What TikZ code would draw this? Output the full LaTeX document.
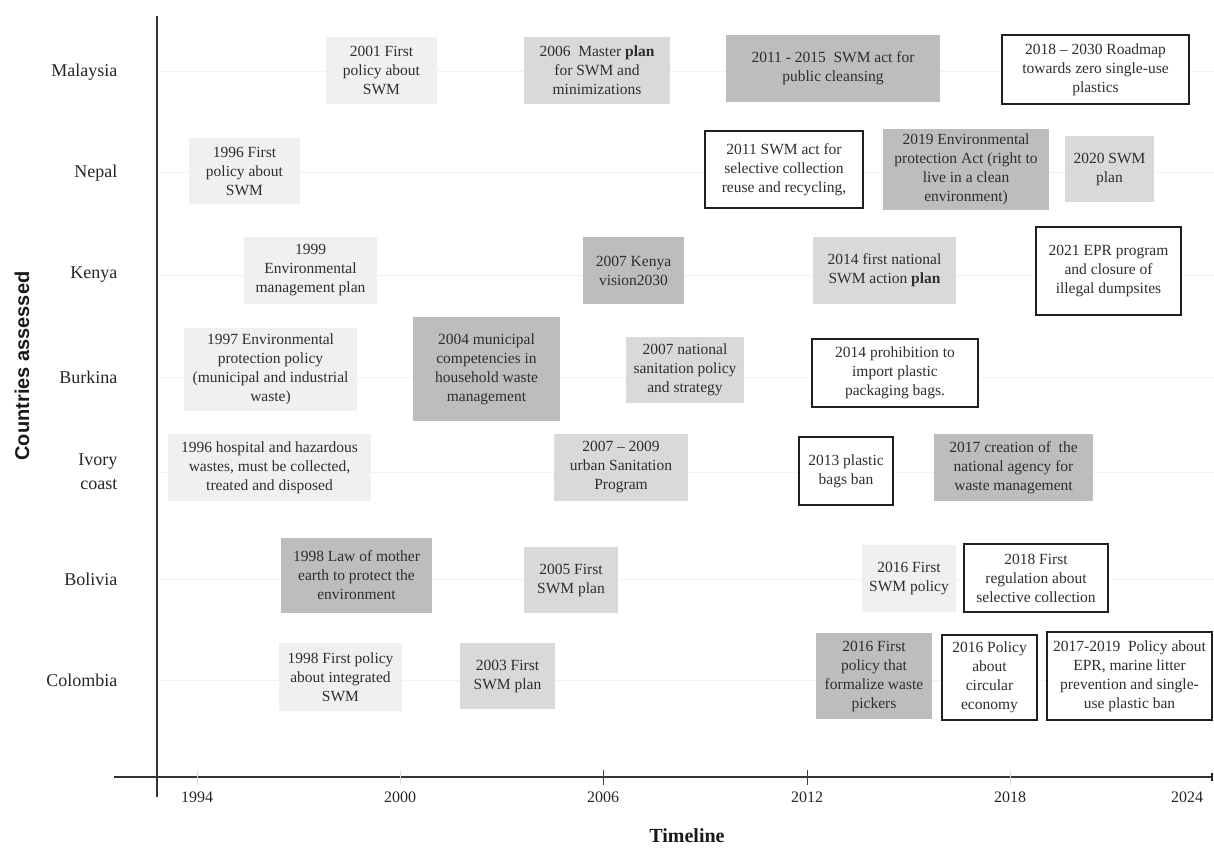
\documentclass[tikz,border=0pt]{standalone}
\usepackage{fontspec}
\setmainfont{Liberation Serif}
\newfontfamily\axsans{Liberation Sans}
\begin{document}
\begin{tikzpicture}[x=1pt,y=-1pt,
  evbox/.style={inner sep=0pt, align=center, text=black!82,
    font=\fontsize{15.5}{19}\selectfont},
  lbox/.style={evbox, fill=black!6},
  gbox/.style={evbox, fill=black!15},
  dbox/.style={evbox, fill=black!26},
  wbox/.style={evbox, fill=white, draw=black!88, line width=1.4pt},
  country/.style={anchor=east, align=right, text=black!85,
    font=\fontsize{18}{24}\selectfont},
  year/.style={text=black!85, font=\fontsize{16}{19}\selectfont},
  grid/.style={draw=black!5, line width=1pt},
  axis/.style={draw=black!80, line width=1.4pt}]
\useasboundingbox (0,0) rectangle (1214,850);

% gridlines
\foreach \yy in {72,173,275,377,472,579,680}{
  \draw[grid] (160,\yy) -- (1214,\yy);
}

% axes
\coordinate (vtop) at (157,16);
\coordinate (vbot) at (157,797);
\coordinate (hl) at (114,777);
\coordinate (hr) at (1213,777);
\draw[axis] (vtop) -- (vbot);
\draw[axis] (hl) -- (hr);
\foreach \xx in {197,400,1010}{
  \draw[draw=black!12, line width=1pt] (\xx,770) -- (\xx,785);
}
\foreach \xx in {603,807}{
  \draw[draw=black!75, line width=1pt] (\xx,770) -- (\xx,785);
}
\draw[draw=black!85, line width=2.5pt] (1212,773) -- (1212,781);

% year labels
\node[year] (y1994) at (197,797) {1994};
\node[year] (y2000) at (400,797) {2000};
\node[year] (y2006) at (603,797) {2006};
\node[year] (y2012) at (807,797) {2012};
\node[year] (y2018) at (1010,797) {2018};
\node[year] (y2024) at (1187,797) {2024};

% axis titles
\node[font=\fontsize{20}{24}\selectfont\bfseries, text=black!90] (tl) at (687,836) {Timeline};
\node[rotate=90, font=\axsans\fontsize{20}{24}\selectfont\bfseries, text=black!90] (ca) at (22,366) {Countries assessed};

% country labels
\node[country] (cMal) at (121,72) {Malaysia};
\node[country] (cNep) at (121,173) {Nepal};
\node[country] (cKen) at (121,275) {Kenya};
\node[country] (cBur) at (121,377) {Burkina};
\node[country] (cIvo) at (121,472) {Ivory\\coast};
\node[country] (cBol) at (121,579) {Bolivia};
\node[country] (cCol) at (121,680) {Colombia};

% Malaysia
\node[lbox, minimum width=111, minimum height=67] (m1) at (381.5,70.5) {2001 First\\policy about\\SWM};
\node[gbox, minimum width=146, minimum height=67] (m2) at (597,70.5) {2006\ \ Master \textbf{plan}\\for SWM and\\minimizations};
\node[dbox, minimum width=214, minimum height=67] (m3) at (833,68.5) {2011 - 2015\ \ SWM act for\\public cleansing};
\node[wbox, minimum width=187, minimum height=69] (m4) at (1095.5,69.5) {2018 -- 2030 Roadmap\\towards zero single-use\\plastics};

% Nepal
\node[lbox, minimum width=111, minimum height=66] (n1) at (244.5,171) {1996 First\\policy about\\SWM};
\node[wbox, minimum width=158, minimum height=77] (n2) at (784,169.5) {2011 SWM act for\\selective collection\\reuse and recycling,};
\node[dbox, minimum width=166, minimum height=81] (n3) at (966,169.5) {2019 Environmental\\protection Act (right to\\live in a clean\\environment)};
\node[gbox, minimum width=89, minimum height=66] (n4) at (1109.5,169) {2020 SWM\\plan};

% Kenya
\node[lbox, minimum width=133, minimum height=67] (k1) at (310.5,270.5) {1999\\Environmental\\management plan};
\node[dbox, minimum width=101, minimum height=67] (k2) at (633.5,270.5) {2007 Kenya\\vision2030};
\node[gbox, minimum width=143, minimum height=67] (k3) at (884.5,270.5) {2014 first national\\SWM action \textbf{plan}};
\node[wbox, minimum width=145, minimum height=88] (k4) at (1108.5,271) {2021 EPR program\\and closure of\\illegal dumpsites};

% Burkina
\node[lbox, minimum width=173, minimum height=83] (b1) at (270.5,369.5) {1997 Environmental\\protection policy\\(municipal and industrial\\waste)};
\node[dbox, minimum width=147, minimum height=104] (b2) at (486.5,369) {2004 municipal\\competencies in\\household waste\\management};
\node[gbox, minimum width=118, minimum height=66] (b3) at (685,370) {2007 national\\sanitation policy\\and strategy};
\node[wbox, minimum width=166, minimum height=68] (b4) at (895,373) {2014 prohibition to\\import plastic\\packaging bags.};

% Ivory coast
\node[lbox, minimum width=203, minimum height=67] (i1) at (269.5,467.5) {1996 hospital and hazardous\\wastes, must be collected,\\treated and disposed};
\node[gbox, minimum width=134, minimum height=67] (i2) at (621,467.5) {2007 -- 2009\\urban Sanitation\\Program};
\node[wbox, minimum width=94, minimum height=68] (i3) at (846,471) {2013 plastic\\bags ban};
\node[dbox, minimum width=159, minimum height=67] (i4) at (1013.5,467.5) {2017 creation of\ \ the\\national agency for\\waste management};

% Bolivia
\node[dbox, minimum width=151, minimum height=75] (o1) at (356.5,575.5) {1998 Law of mother\\earth to protect the\\environment};
\node[gbox, minimum width=94, minimum height=66] (o2) at (571,580) {2005 First\\SWM plan};
\node[lbox, minimum width=94, minimum height=67] (o3) at (909,578.5) {2016 First\\SWM policy};
\node[wbox, minimum width=144, minimum height=68] (o4) at (1036,578) {2018 First\\regulation about\\selective collection};

% Colombia
\node[lbox, minimum width=123, minimum height=68] (c1) at (340.5,677) {1998 First policy\\about integrated\\SWM};
\node[gbox, minimum width=95, minimum height=66] (c2) at (507.5,676) {2003 First\\SWM plan};
\node[dbox, minimum width=116, minimum height=86] (c3) at (874,676) {2016 First\\policy that\\formalize waste\\pickers};
\node[wbox, minimum width=95, minimum height=85] (c4) at (989.5,677.5) {2016 Policy\\about\\circular\\economy};
\node[wbox, minimum width=165, minimum height=88] (c5) at (1129.5,676) {2017-2019\ \ Policy about\\EPR, marine litter\\prevention and single-\\use plastic ban};
\end{tikzpicture}
\end{document}
